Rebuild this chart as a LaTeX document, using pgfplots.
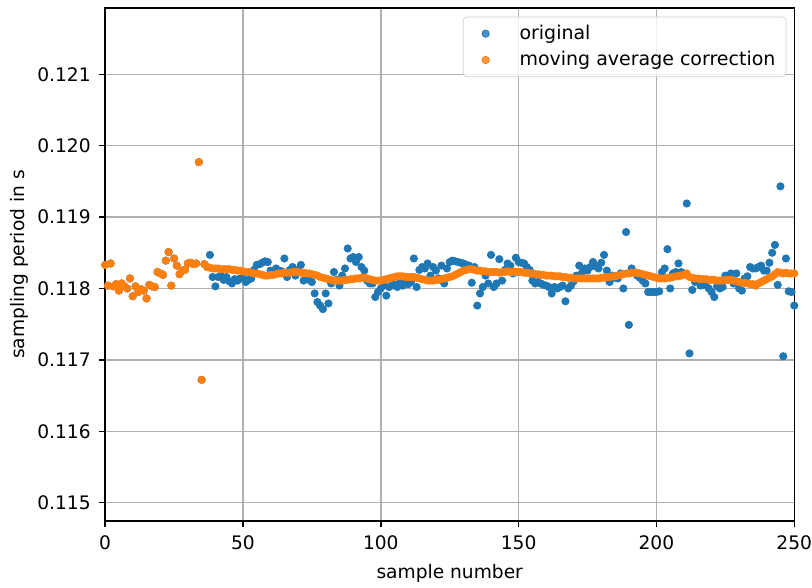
\documentclass[border=0pt]{standalone}
\usepackage{fontspec}
\setmainfont{DejaVu Sans}
\usepackage{pgfplots}
\usepackage{pgfplotstable}
\pgfplotsset{compat=1.18}

\definecolor{mplblue}{HTML}{1F77B4}
\definecolor{mplorange}{HTML}{FF7F0E}
\definecolor{gridgray}{HTML}{B0B0B0}

% original sampling periods, samples 0..250
\pgfplotstableread{
y
0.11833
0.11804
0.11835
0.11803
0.11806
0.11797
0.11807
0.11803
0.11800
0.11814
0.11789
0.11803
0.11795
0.11799
0.11797
0.11786
0.11805
0.11803
0.11802
0.11823
0.11821
0.11819
0.11839
0.11851
0.11804
0.11842
0.11832
0.11820
0.11825
0.11826
0.11835
0.11836
0.11834
0.11835
0.11977
0.11672
0.11834
0.11830
0.11847
0.11816
0.11803
0.11816
0.11818
0.11812
0.11816
0.11810
0.11807
0.11813
0.11811
0.11814
0.11814
0.11809
0.11812
0.11814
0.11826
0.11833
0.11834
0.11836
0.11838
0.11837
0.11825
0.11822
0.11828
0.11825
0.11824
0.11842
0.11816
0.11826
0.11830
0.11818
0.11826
0.11833
0.11811
0.11815
0.11812
0.11809
0.11793
0.11781
0.11776
0.11771
0.11793
0.11779
0.11807
0.11823
0.11812
0.11804
0.11818
0.11828
0.11856
0.11842
0.11844
0.11837
0.11844
0.11830
0.11825
0.11811
0.11807
0.11807
0.11788
0.11795
0.11800
0.11804
0.11790
0.11802
0.11804
0.11806
0.11802
0.11808
0.11804
0.11809
0.11806
0.11809
0.11842
0.11802
0.11826
0.11830
0.11828
0.11835
0.11818
0.11830
0.11825
0.11814
0.11832
0.11807
0.11828
0.11837
0.11839
0.11838
0.11837
0.11836
0.11835
0.11833
0.11832
0.11808
0.11830
0.11776
0.11793
0.11802
0.11818
0.11807
0.11847
0.11802
0.11807
0.11841
0.11811
0.11826
0.11835
0.11832
0.11821
0.11843
0.11837
0.11836
0.11835
0.11830
0.11826
0.11811
0.11807
0.11809
0.11807
0.11805
0.11804
0.11802
0.11793
0.11802
0.11800
0.11802
0.11804
0.11782
0.11800
0.11804
0.11810
0.11818
0.11832
0.11822
0.11828
0.11825
0.11830
0.11837
0.11831
0.11828
0.11836
0.11847
0.11825
0.11809
0.11818
0.11815
0.11814
0.11821
0.11800
0.11879
0.11749
0.11828
0.11822
0.11818
0.11815
0.11811
0.11807
0.11795
0.11795
0.11795
0.11795
0.11796
0.11823
0.11828
0.11855
0.11800
0.11821
0.11823
0.11835
0.11823
0.11821
0.11919
0.11709
0.11798
0.11809
0.11812
0.11804
0.11805
0.11808
0.11800
0.11795
0.11788
0.11803
0.11800
0.11802
0.11818
0.11812
0.11821
0.11807
0.11821
0.11800
0.11797
0.11814
0.11817
0.11830
0.11828
0.11828
0.11830
0.11832
0.11825
0.11825
0.11836
0.11850
0.11861
0.11805
0.11943
0.11705
0.11842
0.11796
0.11795
0.11776
}\original

% moving average correction, samples 0..250
\pgfplotstableread{
y
0.11833
0.11804
0.11835
0.11803
0.11806
0.11797
0.11807
0.11803
0.11800
0.11814
0.11789
0.11803
0.11795
0.11799
0.11797
0.11786
0.11805
0.11803
0.11802
0.11823
0.11821
0.11819
0.11839
0.11851
0.11804
0.11842
0.11832
0.11820
0.11825
0.11826
0.11835
0.11836
0.11834
0.11835
0.11977
0.11672
0.11834
0.11830
0.11829
0.11828
0.11828
0.11828
0.11827
0.11827
0.11827
0.11827
0.11826
0.11826
0.11825
0.11825
0.11824
0.11823
0.11823
0.11822
0.11821
0.11821
0.11820
0.11819
0.11818
0.11818
0.11819
0.11819
0.11820
0.11821
0.11821
0.11822
0.11822
0.11822
0.11823
0.11823
0.11823
0.11822
0.11822
0.11821
0.11821
0.11820
0.11819
0.11818
0.11816
0.11815
0.11814
0.11813
0.11812
0.11811
0.11811
0.11811
0.11811
0.11812
0.11812
0.11813
0.11813
0.11814
0.11814
0.11815
0.11815
0.11814
0.11813
0.11812
0.11811
0.11811
0.11811
0.11812
0.11813
0.11814
0.11815
0.11816
0.11817
0.11817
0.11817
0.11816
0.11816
0.11816
0.11816
0.11815
0.11814
0.11813
0.11812
0.11811
0.11811
0.11811
0.11812
0.11812
0.11813
0.11814
0.11815
0.11816
0.11817
0.11819
0.11821
0.11823
0.11825
0.11826
0.11827
0.11827
0.11826
0.11825
0.11825
0.11824
0.11824
0.11823
0.11823
0.11823
0.11823
0.11822
0.11823
0.11823
0.11824
0.11823
0.11823
0.11823
0.11823
0.11823
0.11822
0.11822
0.11821
0.11821
0.11820
0.11820
0.11819
0.11819
0.11818
0.11818
0.11818
0.11817
0.11817
0.11817
0.11816
0.11816
0.11815
0.11815
0.11814
0.11814
0.11814
0.11814
0.11814
0.11814
0.11814
0.11814
0.11814
0.11814
0.11815
0.11815
0.11816
0.11816
0.11817
0.11817
0.11818
0.11819
0.11820
0.11821
0.11821
0.11822
0.11822
0.11822
0.11821
0.11820
0.11819
0.11818
0.11817
0.11816
0.11815
0.11814
0.11814
0.11814
0.11815
0.11815
0.11816
0.11817
0.11817
0.11818
0.11819
0.11821
0.11816
0.11815
0.11814
0.11814
0.11813
0.11813
0.11813
0.11812
0.11812
0.11812
0.11811
0.11811
0.11811
0.11812
0.11812
0.11812
0.11811
0.11810
0.11809
0.11808
0.11808
0.11807
0.11806
0.11806
0.11804
0.11807
0.11809
0.11811
0.11813
0.11815
0.11817
0.11820
0.11823
0.11822
0.11821
0.11822
0.11821
0.11821
0.11821
}\movavg

\begin{document}
\begin{tikzpicture}
\begin{axis}[
  scale only axis,
  width=392pt, height=292pt,
  xmin=0, xmax=250, ymin=0.11474, ymax=0.12193,
  xtick={0,50,...,250},
  ytick={0.115,0.116,0.117,0.118,0.119,0.120,0.121},
  scaled y ticks=false,
  /pgf/number format/assume math mode=true,
  tick label style={font=\fontsize{10.6}{12.7}\selectfont},
  label style={font=\fontsize{10.6}{12.7}\selectfont},
  xticklabel style={yshift=-1.5pt, inner xsep=0pt},
  yticklabel style={xshift=-1.2pt, /pgf/number format/.cd, fixed, fixed zerofill, precision=3},
  xlabel={sample number},
  xlabel style={yshift=-1pt},
  ylabel={sampling period in s},
  ylabel shift=-2pt,
  grid=major,
  major grid style={gridgray, line width=0.8pt},
  axis line style={line width=0.8pt},
  tick style={black, line width=0.8pt},
  tick align=outside,
  major tick length=3.5pt,
  xtick pos=bottom, ytick pos=left,
  legend cell align=left,
  mylegend/.style={legend image code/.code={%
    \path (0cm,0cm) (0.9cm,0cm);
    \draw[##1] plot coordinates {(0.3cm,0cm)};}},
  legend style={at={(1,1)}, anchor=north east, xshift=-4.5pt, yshift=-5pt,
    draw=gray!35, rounded corners=2pt, fill=white, fill opacity=0.8, text opacity=1,
    font=\fontsize{10.8}{12.9}\selectfont, row sep=1.3pt, inner xsep=4pt, inner ysep=2.6pt,
    nodes={inner sep=2pt}},
]
\addplot[only marks, mark=*, mark size=2.1pt, color=mplblue, mylegend]
  table[x expr=\coordindex, y=y] {\original};
\addlegendentry{original}
\addplot[only marks, mark=*, mark size=2.1pt, color=mplorange, mylegend]
  table[x expr=\coordindex, y=y] {\movavg};
\addlegendentry{moving average correction}
\end{axis}
\path ([yshift=4.5pt]current axis.north);
\path ([xshift=-2.8pt]current axis.outer west);
\end{tikzpicture}
\end{document}
